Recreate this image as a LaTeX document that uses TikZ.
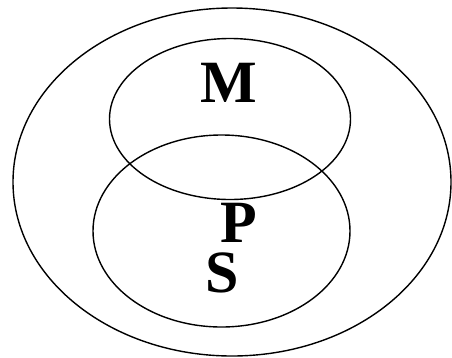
\documentclass[tikz,border=0pt]{standalone}
\usepackage{fontspec}
\setmainfont{Liberation Serif}
\begin{document}
\begin{tikzpicture}[x=1pt,y=-1pt,line width=1.4pt]
		\tikzset{letra/.style={font=\fontsize{60}{60}\selectfont\bfseries, inner sep=0pt}}
		\useasboundingbox (0,0) rectangle (452,357);
		
		% Conjunto exterior
		\draw (232,182) ellipse (219 and 174);
		
		% Conjunto M
		\draw (230,119) ellipse (120.5 and 80.5);
		\node[letra] (m) at (229,82.5) {M};
		
		% Conjunto P y S
		\draw (221.5,231) ellipse (128.5 and 96);
		\node[letra] (p) at (238.5,223) {P};
		\node[letra] (s) at (222.5,273) {S};
		
	\end{tikzpicture}
\end{document}
